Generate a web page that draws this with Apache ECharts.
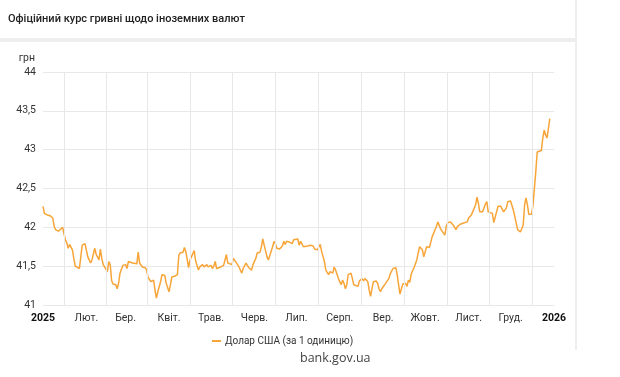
<!DOCTYPE html>
<html>
<head>
<meta charset="utf-8">
<script src="https://cdn.jsdelivr.net/npm/echarts@6/dist/echarts.min.js"></script>
<style>
  html, body { margin: 0; padding: 0; background: #fff; }
  #chart { width: 620px; height: 377px; }
</style>
</head>
<body>
<div id="chart"></div>
<script>
const monthNames = ['', 'Лют.', 'Бер.', 'Квіт.', 'Трав.', 'Черв.', 'Лип.', 'Серп.', 'Вер.', 'Жовт.', 'Лист.', 'Груд.'];

// dates of 2025 (MM-DD) and rate, UAH per 1 USD
const dates = [
  '01-01','01-02','01-04','01-06','01-07','01-08','01-09','01-10','01-12','01-13','01-15','01-16','01-17','01-18','01-19','01-20','01-22','01-23','01-24','01-25','01-27','01-28','01-29','01-31',
  '02-01','02-02','02-04','02-05','02-06','02-07','02-08','02-10','02-11','02-12','02-13','02-14','02-16','02-17','02-18','02-19','02-20','02-22','02-23','02-24','02-25','02-27',
  '03-01','03-02','03-03','03-04','03-06','03-07','03-09','03-10','03-11','03-13','03-15','03-16','03-17','03-19','03-21','03-22','03-23','03-24','03-26','03-27','03-29','03-30',
  '04-01','04-02','04-03','04-05','04-07','04-08','04-09','04-11','04-12','04-13','04-15','04-16','04-17','04-19','04-20','04-22','04-23','04-25','04-26','04-28','04-29',
  '05-01','05-02','05-03','05-04','05-05','05-06','05-08','05-10','05-11','05-12','05-13','05-14','05-16','05-17','05-18','05-20','05-21','05-22','05-23','05-24','05-26','05-27','05-28','05-30','05-31',
  '06-02','06-03','06-05','06-06','06-07','06-08','06-10','06-11','06-12','06-14','06-15','06-16','06-17','06-19','06-21','06-22','06-23','06-24','06-26','06-27','06-28','06-29','06-30',
  '07-02','07-03','07-04','07-06','07-07','07-09','07-11','07-13','07-14','07-16','07-17','07-18','07-19','07-21','07-22','07-23','07-24','07-25','07-27','07-28','07-29','07-30','07-31',
  '08-02','08-03','08-04','08-05','08-06','08-07','08-09','08-10','08-11','08-12','08-14','08-15','08-17','08-18','08-19','08-21','08-22','08-23','08-24','08-25','08-27','08-28','08-29','08-30','08-31',
  '09-02','09-03','09-05','09-06','09-08','09-09','09-10','09-11','09-12','09-13','09-14','09-15','09-17','09-18','09-19','09-20','09-21','09-23','09-24','09-25','09-26','09-27','09-29','09-30',
  '10-01','10-02','10-04','10-05','10-06','10-07','10-09','10-10','10-11','10-12','10-13','10-15','10-16','10-17','10-19','10-20','10-21','10-23','10-24','10-26','10-27','10-29','10-30','10-31',
  '11-01','11-03','11-04','11-06','11-07','11-08','11-09','11-10','11-11','11-13','11-14','11-15','11-16','11-18','11-19','11-20','11-21','11-22','11-24','11-25','11-26','11-27','11-28','11-29',
  '12-01','12-02','12-03','12-04','12-05','12-06','12-08','12-09','12-10','12-11','12-12','12-13','12-14','12-16','12-17','12-18','12-19','12-20','12-21','12-23','12-24','12-25','12-26','12-27','12-28','12-29'
];
const usdRate = [
  42.27,42.18,42.16,42.15,42.16,42.12,42.01,41.97,41.95,41.93,42.00,41.92,41.84,41.80,41.73,41.78,41.71,41.60,41.50,41.48,41.47,41.62,41.77,41.79,
  41.78,41.62,41.54,41.58,41.66,41.73,41.65,41.58,41.72,41.60,41.52,41.50,41.43,41.56,41.52,41.32,41.27,41.26,41.21,41.28,41.41,41.51,
  41.52,41.47,41.56,41.58,41.54,41.52,41.53,41.68,41.54,41.49,41.48,41.45,41.36,41.30,41.32,41.19,41.09,41.17,41.30,41.39,41.38,41.28,
  41.17,41.26,41.36,41.37,41.39,41.64,41.67,41.68,41.74,41.69,41.48,41.58,41.62,41.70,41.57,41.45,41.49,41.52,41.49,41.52,41.49,
  41.51,41.47,41.50,41.56,41.47,41.48,41.49,41.51,41.58,41.65,41.54,41.52,41.52,41.60,41.62,41.52,41.49,41.47,41.41,41.47,41.54,41.52,41.48,41.45,41.52,
  41.60,41.67,41.68,41.75,41.85,41.77,41.62,41.58,41.59,41.75,41.82,41.79,41.73,41.72,41.76,41.82,41.78,41.82,41.81,41.82,41.79,41.84,41.82,
  41.85,41.77,41.82,41.75,41.77,41.76,41.77,41.76,41.72,41.71,41.73,41.78,41.69,41.56,41.45,41.43,41.39,41.43,41.41,41.49,41.45,41.43,41.34,
  41.26,41.32,41.28,41.21,41.26,41.39,41.41,41.34,41.26,41.24,41.24,41.31,41.34,41.31,41.34,41.30,41.19,41.11,41.21,41.30,41.31,41.28,41.21,41.17,41.21,
  41.26,41.24,41.34,41.40,41.47,41.49,41.48,41.39,41.26,41.14,41.21,41.27,41.28,41.24,41.32,41.29,41.40,41.48,41.49,41.58,41.67,41.75,41.71,41.62,
  41.64,41.75,41.74,41.81,41.88,41.89,42.01,42.07,42.05,41.98,41.97,41.90,42.01,42.06,42.07,42.08,42.03,41.97,42.01,42.04,42.05,42.06,42.05,42.07,
  42.12,42.16,42.17,42.29,42.39,42.31,42.20,42.18,42.20,42.30,42.33,42.20,42.19,42.18,42.06,42.07,42.20,42.27,42.27,42.25,42.20,42.18,42.25,42.33,
  42.34,42.33,42.22,42.14,42.14,41.97,41.94,41.94,42.03,42.29,42.38,42.29,42.17,42.17,42.29,42.50,42.72,42.97,42.99,42.99,43.15,43.25,43.19,43.15,43.27,43.40
];

const yTicks = [41, 41.5, 42, 42.5, 43, 43.5, 44];

const seriesData = dates.map((d, i) => ['2025-' + d, usdRate[i]]);

// vertical grid lines sit in the middle of each month
const midMonths = [];
for (let m = 0; m < 12; m++) {
  const a = new Date(2025, m, 1).getTime();
  const b = new Date(2025, m + 1, 1).getTime();
  midMonths.push({ xAxis: (a + b) / 2 });
}

const chart = echarts.init(document.getElementById('chart'), null, { renderer: 'canvas' });
chart.setOption({
  animation: false,
  backgroundColor: '#fff',
  textStyle: { fontFamily: 'Roboto' },
  title: {
    text: 'Офіційний курс гривні щодо іноземних валют',
    left: 3,
    top: 9,
    textStyle: { fontFamily: 'Roboto', fontSize: 11, fontWeight: 500, color: '#222' }
  },
  graphic: [
    { type: 'rect', shape: { x: 0, y: 38, width: 576, height: 4 }, style: { fill: '#eeeeee' }, silent: true },
    { type: 'rect', shape: { x: 575, y: 0, width: 2, height: 350 }, style: { fill: '#eeeeee' }, silent: true },
    {
      type: 'text', left: 300, top: 352,
      style: { text: 'bank.gov.ua', font: '12.5px "Open Sans"', fill: '#444' }
    }
  ],
  legend: {
    data: ['Долар США (за 1 одиницю)'],
    left: 207,
    top: 331,
    icon: 'rect',
    itemWidth: 9,
    itemHeight: 2,
    itemGap: 4,
    textStyle: { fontFamily: 'Roboto', fontSize: 10, color: '#333', padding: [0, 0, 0, -1] }
  },
  grid: { left: 43, right: 66, top: 72, bottom: 72 },
  xAxis: {
    type: 'time',
    min: '2025-01-01',
    max: '2026-01-01',
    splitNumber: 12,
    axisLine: { show: false },
    axisTick: { show: false },
    splitLine: { show: false },
    axisLabel: {
      color: '#333',
      fontFamily: 'Roboto',
      fontSize: 10.5,
      margin: 8,
      hideOverlap: false,
      showMinLabel: true,
      showMaxLabel: true,
      formatter: function (val) {
        const d = new Date(val);
        const m = d.getMonth();
        if (m === 0) return '{y|' + d.getFullYear() + '}';
        return monthNames[m];
      },
      rich: { y: { fontFamily: 'Roboto', fontWeight: 'bold', fontSize: 10.5, color: '#111' } }
    }
  },
  yAxis: {
    type: 'value',
    min: yTicks[0],
    max: yTicks[yTicks.length - 1],
    interval: 0.5,
    name: 'грн',
    nameLocation: 'end',
    nameGap: 8,
    nameTextStyle: { color: '#333', fontFamily: 'Roboto', fontSize: 10.5, align: 'right', padding: [0, 8, 0, 0] },
    axisLine: { show: false },
    axisTick: { show: false },
    splitLine: { lineStyle: { color: '#e8e8e8' } },
    axisLabel: {
      color: '#333',
      fontFamily: 'Roboto',
      fontSize: 10.5,
      margin: 7,
      formatter: v => String(v).replace('.', ',')
    }
  },
  series: [
    {
      type: 'line',
      name: 'grid',
      data: [],
      z: 1,
      silent: true,
      markLine: {
        silent: true,
        symbol: 'none',
        label: { show: false },
        lineStyle: { color: '#e8e8e8', width: 1, type: 'solid' },
        data: midMonths
      }
    },
    {
      type: 'line',
      name: 'Долар США (за 1 одиницю)',
      data: seriesData,
      z: 3,
      showSymbol: false,
      color: '#f7a538',
      lineStyle: { width: 1.5, color: '#f7a538' }
    }
  ]
});
</script>
</body>
</html>
